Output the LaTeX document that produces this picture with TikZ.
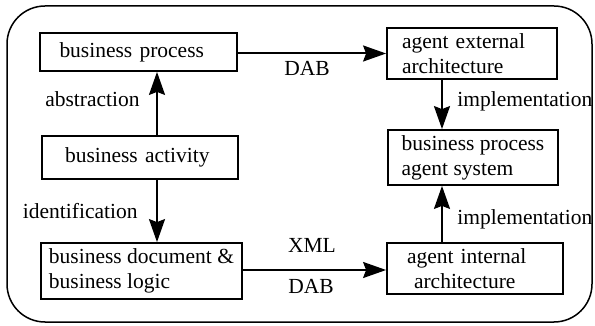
\documentclass[tikz,border=0pt]{standalone}
\usepackage{fontspec}
\setmainfont{Liberation Serif}
\usetikzlibrary{arrows.meta,positioning}

\begin{document}
\begin{tikzpicture}[x=0.5pt, y=-0.5pt,
        box/.style={draw, line width=0.9pt, inner ysep=0pt, font=\fontsize{10.75}{12.5}\selectfont},
        lbl/.style={inner sep=0pt, font=\fontsize{10.75}{12.5}\selectfont},
        flow/.style={line width=1pt},
        >={Stealth[length=11.5pt,width=8pt,inset=1.5pt]}]
        \useasboundingbox (0,0) rectangle (595,326);

        % Frame
        \draw [line width=0.75pt, rounded corners=19pt] (7,6) rectangle (592,322);

        % Business side
        \node [box, text width=79pt, inner xsep=9.75pt, minimum height=19pt, align=left] (bproc) at (138.5,52) {business process};
        \node [box, text width=75pt, inner xsep=11.5pt, minimum height=21.5pt, align=left] (bact) at (140,157.5) {business activity};
        \node [box, inner xsep=0pt, minimum width=100.5pt, minimum height=28pt, align=left] (bdoc) at (141.5,271) {business document \&\\business logic};

        % Agent side
        \node [box, text width=70pt, inner xsep=7.5pt, minimum height=25.5pt, align=left] (extarch) at (472,53.5) {agent external\\architecture};
        \node [box, inner xsep=0pt, minimum width=85pt, minimum height=27.5pt, align=left] (bpas) at (473,157.5) {business process\\agent system};
        \node [box, text width=68pt, inner xsep=10pt, minimum height=25.5pt, align=left] (intarch) at (475,268.5) {agent internal\\\hspace*{3.5pt}architecture};

        % Arrow columns
        \coordinate (lx) at (157,0);
        \coordinate (rx) at (442,0);

        % Arrows
        \draw [->, flow] (bact.north -| lx) -- (bproc.south -| lx);
        \draw [->, flow] (bact.south -| lx) -- (bdoc.north -| lx);
        \draw [->, flow] (bproc.east |- extarch.west) -- (extarch.west);
        \draw [->, flow] (bdoc.east |- 0,270) -- (intarch.west |- 0,270);
        \draw [->, flow] (extarch.south -| rx) -- (bpas.north -| rx);
        \draw [->, flow] (intarch.north -| rx) -- (bpas.south -| rx);

        % Labels
        \node [lbl, anchor=base east] at (140,107) {abstraction};
        \node [lbl, anchor=base east] at (138,219) {identification};
        \node [lbl, anchor=base] at (307,76) {DAB};
        \node [lbl, anchor=base] at (312,253) {XML};
        \node [lbl, anchor=base] at (311,293) {DAB};
        \node [lbl, anchor=base west] at (457,107) {implementation};
        \node [lbl, anchor=base west] at (457,225) {implementation};
    \end{tikzpicture}
\end{document}
